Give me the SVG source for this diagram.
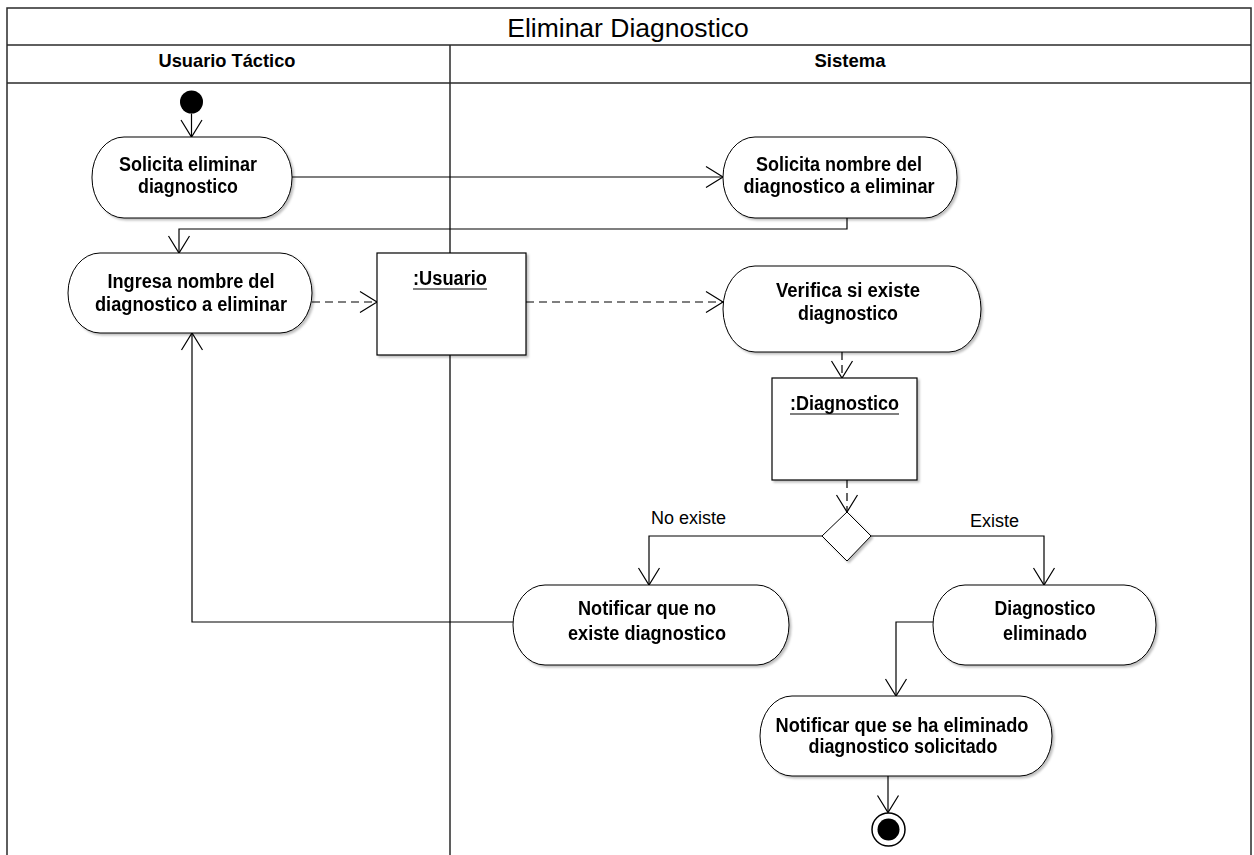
<svg xmlns="http://www.w3.org/2000/svg" width="1254" height="855" viewBox="0 0 1254 855">
<style>
.frame{fill:none;stroke:#2a2a2a;stroke-width:1.5}
.sep{stroke:#2a2a2a;stroke-width:1.5}
.title{font-family:"Liberation Sans",Arial,sans-serif;font-size:26.5px;fill:#000;text-anchor:middle}
.lane{font-family:"Liberation Sans",Arial,sans-serif;font-size:18.5px;font-weight:bold;fill:#000;text-anchor:middle}
.act{fill:#fff;stroke:#000;stroke-width:1}
.obj{fill:#fff;stroke:#000;stroke-width:1.2}
.t{font-family:"Liberation Sans",Arial,sans-serif;font-size:20px;font-weight:bold;fill:#000;text-anchor:middle}
.lbl{font-family:"Liberation Sans",Arial,sans-serif;font-size:18px;fill:#000}
.flow{fill:none;stroke:#000;stroke-width:1.2;marker-end:url(#arr)}
.oflow{fill:none;stroke:#000;stroke-width:1.2;stroke-dasharray:8 5;marker-end:url(#arr)}
.ul{stroke:#000;stroke-width:1.2}
</style>
<defs>
<marker id="arr" markerUnits="userSpaceOnUse" markerWidth="24" markerHeight="26" viewBox="-20 -13 24 26" refX="0" refY="0" orient="auto">
<path d="M-17,-10.5 L0,0 L-17,10.5" fill="none" stroke="#000" stroke-width="1.2"/>
</marker>
<filter id="sh" x="-10%" y="-10%" width="130%" height="130%">
<feDropShadow dx="2" dy="2" stdDeviation="1" flood-color="#000" flood-opacity="0.25"/>
</filter>
</defs>
<rect width="1254" height="855" fill="#fff"/>
<g id="frame">
<rect class="frame" x="7" y="8" width="1244" height="870"/>
<line class="sep" x1="7" y1="45" x2="1251" y2="45" stroke-width="2.5"/>
<line class="sep" x1="7" y1="83" x2="1251" y2="83"/>
<line class="sep" x1="450" y1="45" x2="450" y2="855"/>
<text class="title" x="628" y="37">Eliminar Diagnostico</text>
<text class="lane" x="227" y="66.5" textLength="137" lengthAdjust="spacingAndGlyphs">Usuario Táctico</text>
<text class="lane" x="850" y="66.5" textLength="71" lengthAdjust="spacingAndGlyphs">Sistema</text>
</g>
<g id="connectors">
<line class="flow" x1="191.5" y1="113.5" x2="191.5" y2="137"/>
<line class="flow" x1="292" y1="177" x2="723" y2="177"/>
<polyline class="flow" points="847,218 847,229 179,229 179,253"/>
<line class="oflow" x1="312" y1="302" x2="377" y2="302"/>
<line class="oflow" x1="526" y1="302" x2="723" y2="302"/>
<line class="oflow" x1="842" y1="352" x2="842" y2="378"/>
<line class="oflow" x1="847" y1="480" x2="847" y2="512"/>
<polyline class="flow" points="822,536 649,536 649,585"/>
<polyline class="flow" points="871,536 1044,536 1044,585"/>
<polyline class="flow" points="513,622 192,622 192,333"/>
<polyline class="flow" points="933,622 896,622 896,696"/>
<line class="flow" x1="888" y1="776" x2="888" y2="812.5"/>
<text class="lbl" x="651" y="524">No existe</text>
<text class="lbl" x="970" y="527">Existe</text>
</g>
<g id="start">
<circle cx="191.5" cy="102" r="11.5" fill="#000"/>
</g>
<g id="solicita-eliminar" filter="url(#sh)">
<rect class="act" x="92" y="137" width="200" height="81" rx="32" ry="40"/>
<text class="t" x="188" y="170.5" textLength="138" lengthAdjust="spacingAndGlyphs">Solicita eliminar</text>
<text class="t" x="188" y="192.5" textLength="100" lengthAdjust="spacingAndGlyphs">diagnostico</text>
</g>
<g id="solicita-nombre" filter="url(#sh)">
<rect class="act" x="723" y="137" width="234" height="81" rx="32" ry="40"/>
<text class="t" x="839" y="170.5" textLength="166" lengthAdjust="spacingAndGlyphs">Solicita nombre del</text>
<text class="t" x="839" y="192.5" textLength="191" lengthAdjust="spacingAndGlyphs">diagnostico a eliminar</text>
</g>
<g id="ingresa" filter="url(#sh)">
<rect class="act" x="68" y="253" width="244" height="80" rx="32" ry="40"/>
<text class="t" x="191" y="288" textLength="167" lengthAdjust="spacingAndGlyphs">Ingresa nombre del</text>
<text class="t" x="191" y="311" textLength="192" lengthAdjust="spacingAndGlyphs">diagnostico a eliminar</text>
</g>
<g id="usuario" filter="url(#sh)">
<rect class="obj" x="377" y="253" width="149" height="102"/>
<text class="t" x="450" y="285" textLength="74" lengthAdjust="spacingAndGlyphs">:Usuario</text>
<line class="ul" x1="413" y1="289" x2="487" y2="289"/>
</g>
<g id="verifica" filter="url(#sh)">
<rect class="act" x="723" y="266" width="258" height="86" rx="32" ry="43"/>
<text class="t" x="848" y="297" textLength="144" lengthAdjust="spacingAndGlyphs">Verifica si existe</text>
<text class="t" x="848" y="320" textLength="100" lengthAdjust="spacingAndGlyphs">diagnostico</text>
</g>
<g id="diagnostico" filter="url(#sh)">
<rect class="obj" x="772" y="378" width="145" height="102"/>
<text class="t" x="844.5" y="410" textLength="109" lengthAdjust="spacingAndGlyphs">:Diagnostico</text>
<line class="ul" x1="790" y1="414" x2="899" y2="414"/>
</g>
<g id="decision" filter="url(#sh)">
<polygon class="act" points="847,512 871,536 847,561 822,536"/>
</g>
<g id="notificar-no" filter="url(#sh)">
<rect class="act" x="513" y="585" width="276" height="80" rx="32" ry="40"/>
<text class="t" x="647" y="615" textLength="138" lengthAdjust="spacingAndGlyphs">Notificar que no</text>
<text class="t" x="647" y="640" textLength="158" lengthAdjust="spacingAndGlyphs">existe diagnostico</text>
</g>
<g id="eliminado" filter="url(#sh)">
<rect class="act" x="933" y="585" width="223" height="80" rx="32" ry="40"/>
<text class="t" x="1045" y="615" textLength="101" lengthAdjust="spacingAndGlyphs">Diagnostico</text>
<text class="t" x="1045" y="640" textLength="84" lengthAdjust="spacingAndGlyphs">eliminado</text>
</g>
<g id="notificar-eliminado" filter="url(#sh)">
<rect class="act" x="760" y="696" width="292" height="80" rx="32" ry="40"/>
<text class="t" x="902" y="731.5" textLength="253" lengthAdjust="spacingAndGlyphs">Notificar que se ha eliminado</text>
<text class="t" x="903" y="752.5" textLength="189" lengthAdjust="spacingAndGlyphs">diagnostico solicitado</text>
</g>
<g id="end">
<circle cx="888.5" cy="829.5" r="16.5" fill="#fff" stroke="#000" stroke-width="1.5"/>
<circle cx="888.5" cy="829.5" r="11" fill="#000"/>
</g>
</svg>
